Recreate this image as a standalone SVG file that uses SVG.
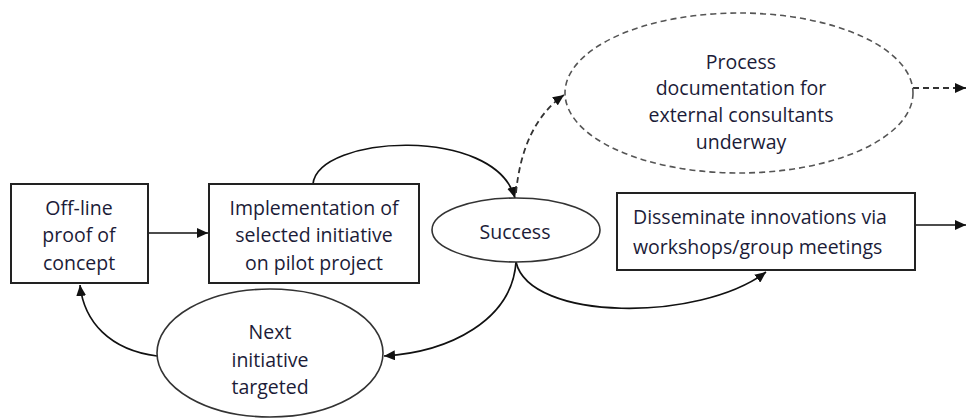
<svg xmlns="http://www.w3.org/2000/svg" width="968" height="419" viewBox="0 0 968 419">
<defs>
<marker id="arr" markerUnits="userSpaceOnUse" markerWidth="12" markerHeight="10" refX="11" refY="5" orient="auto">
<path d="M0,0 L11,5 L0,10 z" fill="#111"/>
</marker>
<style>
.box{fill:#fff;stroke:#222;stroke-width:2}
.ell{fill:#fff;stroke:#333;stroke-width:1.6}
.dell{fill:#fff;stroke:#555;stroke-width:1.6;stroke-dasharray:6 4}
.t{font-family:"Open Sans","Noto Sans",sans-serif;font-size:19.5px;fill:#1c1c38;text-anchor:middle}
.tl{text-anchor:start}
.c{fill:none;stroke:#111;stroke-width:1.7}
.d{fill:none;stroke:#333;stroke-width:1.8;stroke-dasharray:6 4}
</style>
</defs>
<rect width="968" height="419" fill="#fff"/>
<g id="connectors">
<path class="c" d="M148,233 L208,233" marker-end="url(#arr)"/>
<path class="c" d="M313,184 C318,135 495,125 515,198" marker-end="url(#arr)"/>
<path class="d" d="M516,193 C520,150 535,115 564,95" marker-end="url(#arr)"/>
<path class="d" d="M913,88 L966,88" marker-end="url(#arr)"/>
<path class="c" d="M915,225 L966,225" marker-end="url(#arr)"/>
<path class="c" d="M516,262 C530,322 700,322 766,272" marker-end="url(#arr)"/>
<path class="c" d="M516,262 C512,320 450,352 384,356" marker-end="url(#arr)"/>
<path class="c" d="M157,356 C110,350 84,322 80,285" marker-end="url(#arr)"/>
</g>
<g id="offline">
<rect class="box" x="11" y="184" width="137" height="99"/>
<text class="t" x="79" y="215">Off-line</text>
<text class="t" x="79" y="242">proof of</text>
<text class="t" x="79" y="270">concept</text>
</g>
<g id="implementation">
<rect class="box" x="209" y="184" width="210" height="99"/>
<text class="t" x="314" y="215">Implementation of</text>
<text class="t" x="314" y="242">selected initiative</text>
<text class="t" x="314" y="270">on pilot project</text>
</g>
<g id="success">
<ellipse class="ell" cx="516" cy="230" rx="84" ry="32"/>
<text class="t" x="515" y="239">Success</text>
</g>
<g id="process">
<ellipse class="dell" cx="739" cy="93" rx="174" ry="80"/>
<text class="t" x="741" y="69">Process</text>
<text class="t" x="741" y="95">documentation for</text>
<text class="t" x="741" y="122">external consultants</text>
<text class="t" x="741" y="149">underway</text>
</g>
<g id="disseminate">
<rect class="box" x="617" y="193" width="298" height="77"/>
<text class="t tl" x="633" y="224">Disseminate innovations via</text>
<text class="t tl" x="633" y="254">workshops/group meetings</text>
</g>
<g id="next">
<ellipse class="ell" cx="270" cy="353" rx="113" ry="64"/>
<text class="t" x="270" y="339">Next</text>
<text class="t" x="270" y="367">initiative</text>
<text class="t" x="270" y="394">targeted</text>
</g>
</svg>
